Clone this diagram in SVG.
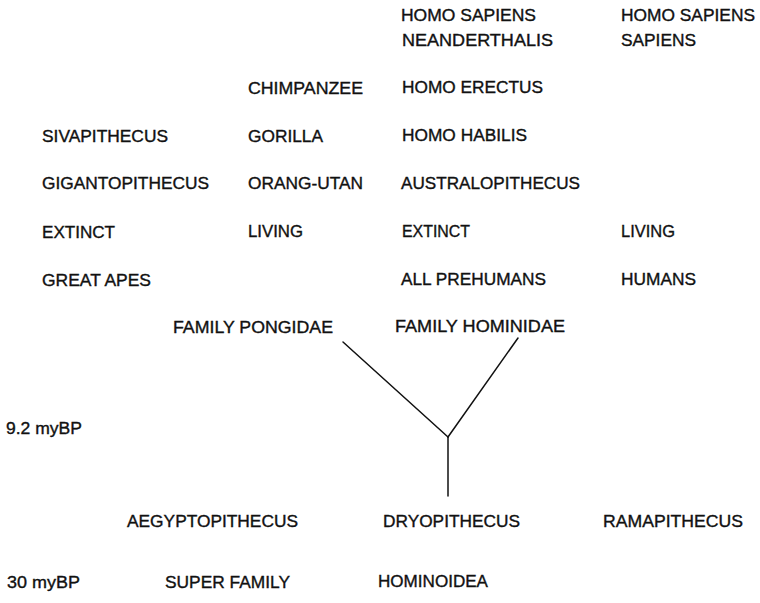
<svg xmlns="http://www.w3.org/2000/svg" width="760" height="603" viewBox="0 0 760 603">
<style>
text { font-family: "Liberation Sans", Arial, sans-serif; font-size: 16.5px; fill: #111; stroke: #111; stroke-width: 0.35; }
.ln { stroke: #111; stroke-width: 1.5; fill: none; stroke-linecap: round; }
</style>
<rect width="760" height="603" fill="#fff"/>
<g id="hs-neanderthalis"><text x="401" y="21" textLength="135" lengthAdjust="spacingAndGlyphs">HOMO SAPIENS</text><text x="402" y="46" textLength="151" lengthAdjust="spacingAndGlyphs">NEANDERTHALIS</text></g>
<g id="hs-sapiens"><text x="621" y="21" textLength="134" lengthAdjust="spacingAndGlyphs">HOMO SAPIENS</text><text x="621" y="46" textLength="75" lengthAdjust="spacingAndGlyphs">SAPIENS</text></g>
<g id="chimpanzee"><text x="248" y="94" textLength="115" lengthAdjust="spacingAndGlyphs">CHIMPANZEE</text></g>
<g id="homo-erectus"><text x="402" y="93" textLength="141" lengthAdjust="spacingAndGlyphs">HOMO ERECTUS</text></g>
<g id="sivapithecus"><text x="42" y="142" textLength="126" lengthAdjust="spacingAndGlyphs">SIVAPITHECUS</text></g>
<g id="gorilla"><text x="248" y="142" textLength="75" lengthAdjust="spacingAndGlyphs">GORILLA</text></g>
<g id="homo-habilis"><text x="402" y="141" textLength="125" lengthAdjust="spacingAndGlyphs">HOMO HABILIS</text></g>
<g id="gigantopithecus"><text x="42" y="189" textLength="167" lengthAdjust="spacingAndGlyphs">GIGANTOPITHECUS</text></g>
<g id="orang-utan"><text x="248" y="189" textLength="115" lengthAdjust="spacingAndGlyphs">ORANG-UTAN</text></g>
<g id="australopithecus"><text x="401" y="189" textLength="179" lengthAdjust="spacingAndGlyphs">AUSTRALOPITHECUS</text></g>
<g id="extinct-apes"><text x="42" y="238" textLength="73" lengthAdjust="spacingAndGlyphs">EXTINCT</text></g>
<g id="living-apes"><text x="248" y="237" textLength="55" lengthAdjust="spacingAndGlyphs">LIVING</text></g>
<g id="extinct-humans"><text x="402" y="237" textLength="68" lengthAdjust="spacingAndGlyphs">EXTINCT</text></g>
<g id="living-humans"><text x="621" y="237" textLength="54" lengthAdjust="spacingAndGlyphs">LIVING</text></g>
<g id="great-apes"><text x="42" y="286" textLength="109" lengthAdjust="spacingAndGlyphs">GREAT APES</text></g>
<g id="all-prehumans"><text x="401" y="285" textLength="145" lengthAdjust="spacingAndGlyphs">ALL PREHUMANS</text></g>
<g id="humans"><text x="621" y="285" textLength="75" lengthAdjust="spacingAndGlyphs">HUMANS</text></g>
<g id="pongidae"><text x="173" y="333" textLength="160" lengthAdjust="spacingAndGlyphs">FAMILY PONGIDAE</text></g>
<g id="hominidae"><text x="395" y="332" textLength="170" lengthAdjust="spacingAndGlyphs">FAMILY HOMINIDAE</text></g>
<g id="t92"><text x="6" y="434" textLength="76" lengthAdjust="spacingAndGlyphs">9.2 myBP</text></g>
<g id="aegyptopithecus"><text x="127" y="527" textLength="171" lengthAdjust="spacingAndGlyphs">AEGYPTOPITHECUS</text></g>
<g id="dryopithecus"><text x="383" y="527" textLength="137" lengthAdjust="spacingAndGlyphs">DRYOPITHECUS</text></g>
<g id="ramapithecus"><text x="603" y="527" textLength="140" lengthAdjust="spacingAndGlyphs">RAMAPITHECUS</text></g>
<g id="t30"><text x="7" y="588" textLength="73" lengthAdjust="spacingAndGlyphs">30 myBP</text></g>
<g id="super-family"><text x="165" y="588" textLength="125" lengthAdjust="spacingAndGlyphs">SUPER FAMILY</text></g>
<g id="hominoidea"><text x="378" y="587" textLength="110" lengthAdjust="spacingAndGlyphs">HOMINOIDEA</text></g>
<g id="connectors">
<line class="ln" x1="343" y1="342" x2="448" y2="437"/>
<line class="ln" x1="518" y1="338" x2="448" y2="437"/>
<line class="ln" x1="448" y1="437" x2="448" y2="496"/>
</g>
</svg>
